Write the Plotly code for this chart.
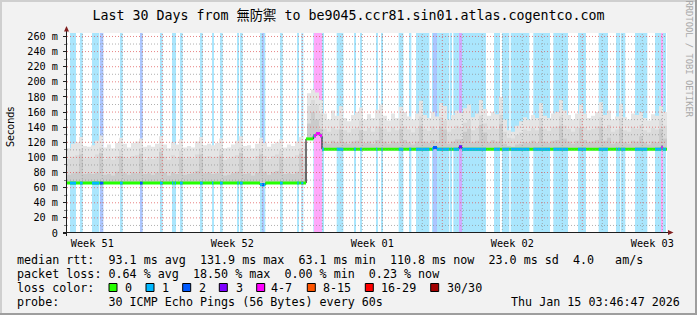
import pandas as pd
import plotly.graph_objects as go

# ---------------- data ----------------
START = pd.Timestamp("2025-12-16 05:38:00")
END = START + pd.Timedelta(days=30)
TOTAL_H = 720.0
BIN_HOURS = 4.8
Y_MAX = 264.6

# loss events (hours since start of graph) and their loss class
loss_start_h = [3.6, 15.6, 30.0, 39.6, 63.6, 87.6, 111.6, 126.0, 129.2, 135.6, 159.6, 174.0, 183.6,
                204.4, 207.6, 231.6, 234.0, 255.6, 276.4, 281.2, 295.6, 296.4, 323.6, 344.4, 351.6,
                370.8, 377.2, 398.0, 410.4, 418.8, 438.0, 439.2, 460.4, 463.6, 470.4, 512.4, 522.0,
                532.4, 559.6, 583.6, 613.2, 638.0, 658.8, 661.2, 664.4, 681.6, 705.6, 713.2]
loss_end_h = [10.8, 18.8, 38.8, 43.6, 66.8, 90.8, 114.8, 127.6, 130.8, 138.8, 162.8, 175.6, 186.8,
              206.0, 210.8, 238.0, 236.4, 258.8, 278.0, 283.6, 308.4, 306.0, 331.6, 346.8, 354.0,
              372.4, 378.8, 403.6, 413.2, 434.8, 458.8, 444.0, 462.0, 502.8, 474.0, 519.6, 530.8,
              554.8, 579.6, 601.2, 622.8, 649.2, 660.4, 663.6, 670.0, 696.4, 718.8, 714.8]
loss_level = [1, 1, 1, 2, 1, 2, 1, 1, 1, 1, 1, 1, 1,
              1, 1, 1, 2, 1, 1, 1, 1, 4, 1, 1, 1,
              1, 1, 1, 1, 1, 1, 2, 1, 1, 3, 1, 1,
              1, 1, 1, 1, 1, 1, 1, 1, 1, 1, 4]

# median rtt (ms), step values starting at the given hour
median_t_h = [0, 231.6, 238.0, 286.8, 295.6, 298.8, 303.6, 306.0, 439.2, 444.0, 470.4, 474.0, 713.2, 714.8]
median_v = [66, 64, 66, 124.5, 128.5, 131.5, 128.5, 110.8, 113, 110.8, 114, 110.8, 113.5, 110.8]

# smoke envelope (ms) per 4.8 h bin: outer, middle, inner
smoke_hi = [
    112, 118, 120, 127, 115, 114, 116, 122, 129, 113, 117, 112, 119, 126, 118, 113, 119, 121, 125, 114,
    116, 114, 118, 128, 117, 112, 120, 117, 124, 113, 115, 113, 121, 127, 116, 118, 116, 119, 125, 112,
    113, 117, 122, 128, 115, 116, 112, 118, 126, 119, 114, 118, 120, 124, 113, 117, 115, 121, 127, 120,
    185, 190, 186, 176,
    158, 150, 162, 155,
    168, 152, 148, 156, 160, 166, 150, 157, 152, 163, 170, 155, 149, 158, 152, 167, 160, 154, 150, 158,
    175, 156, 152, 160, 154, 172, 168, 150, 156, 162, 159, 165, 170, 153, 158, 176, 164, 155, 160, 157,
    180, 150, 136, 134, 142, 148, 153, 150, 156, 152, 172, 155, 152, 158, 160, 176, 162, 156, 150, 158,
    170, 158, 152, 155, 160, 173, 156, 162, 150, 154, 171, 153, 150, 158, 156, 160, 152, 149, 157, 155,
    168, 160]
smoke_mid = [
    98, 101, 103, 111, 99, 100, 99, 104, 113, 98, 101, 97, 102, 110, 100, 99, 102, 103, 112, 97,
    100, 98, 101, 113, 101, 97, 103, 100, 109, 99, 101, 99, 104, 112, 100, 102, 100, 101, 110, 97,
    99, 101, 103, 113, 100, 100, 97, 102, 111, 102, 98, 102, 104, 109, 99, 101, 100, 103, 112, 101,
    168, 176, 170, 158,
    138, 134, 140, 137,
    150, 136, 133, 138, 140, 149, 135, 139, 134, 141, 152, 138, 134, 140, 136, 150, 141, 137, 133, 139,
    154, 138, 135, 141, 137, 153, 149, 134, 138, 142, 140, 146, 150, 136, 139, 155, 145, 137, 141, 138,
    156, 134, 126, 125, 130, 133, 137, 135, 139, 136, 152, 138, 135, 140, 141, 154, 142, 138, 134, 140,
    151, 140, 136, 138, 141, 153, 139, 143, 134, 137, 151, 136, 134, 140, 138, 143, 136, 133, 139, 137,
    150, 142]
smoke_lo = [
    77, 79, 81, 104, 78, 79, 78, 80, 106, 77, 78, 76, 81, 102, 79, 77, 80, 79, 105, 78,
    79, 77, 80, 107, 80, 76, 80, 78, 101, 77, 78, 79, 82, 104, 79, 80, 78, 79, 103, 76,
    77, 79, 81, 106, 78, 79, 76, 80, 104, 81, 77, 80, 82, 101, 78, 79, 78, 81, 105, 80,
    145, 160, 150, 138,
    121, 118, 122, 120,
    137, 120, 118, 121, 122, 136, 119, 121, 118, 123, 140, 121, 118, 122, 120, 138, 123, 120, 117, 121,
    142, 121, 119, 123, 120, 141, 137, 118, 121, 124, 124, 134, 138, 120, 122, 143, 133, 120, 123, 121,
    144, 118, 115, 114, 117, 118, 120, 119, 122, 119, 140, 121, 119, 122, 123, 142, 125, 121, 118, 122,
    139, 123, 120, 121, 123, 141, 122, 126, 118, 120, 139, 120, 118, 122, 121, 128, 120, 117, 121, 120,
    138, 125]

week_label_dates = ["2025-12-17 12:00", "2025-12-24 12:00", "2025-12-31 12:00",
                    "2026-01-07 12:00", "2026-01-14 12:00"]
week_labels = ["Week 51", "Week 52", "Week 01", "Week 02", "Week 03"]
y_tick_vals = list(range(0, 261, 20))
y_tick_text = ["0"] + [f"{v} m" for v in y_tick_vals[1:]]

loss_legend_labels = ["0", "1", "2", "3", "4-7", "8-15", "16-29", "30/30"]
loss_legend_colors = ["#26ff00", "#00b8ff", "#0059ff", "#7e00ff", "#ff00ff", "#ff5500", "#ff0000", "#a10000"]
band_colors = {1: "rgb(170,230,253)", 2: "rgb(172,198,255)", 3: "rgb(212,170,255)", 4: "rgb(255,168,250)"}
smoke_colors = ["#e5e5e5", "#dadada", "#cbcbcb"]

title_text = "Last 30 Days from 無防禦 to be9045.ccr81.sin01.atlas.cogentco.com"
row_rtt = "median rtt:  93.1 ms avg  131.9 ms max  63.1 ms min  110.8 ms now  23.0 ms sd  4.0   am/s"
row_loss = "packet loss: 0.64 % avg  18.50 % max  0.00 % min  0.23 % now"
row_probe = "probe:       30 ICMP Echo Pings (56 Bytes) every 60s"
stamp = "Thu Jan 15 03:46:47 2026"

# ---------------- helpers ----------------
MONO = "DejaVu Sans Mono, Noto Sans CJK TC, monospace"
L, R, T0, B = 67, 667, 33, 233  # plot area in pixels


def PX(x):
    return (x - L) / (R - L)


def PY(y):
    return (B - y) / (B - T0)


def T(h):
    return START + pd.Timedelta(hours=h)


def med_at(h):
    v = median_v[0]
    for t, val in zip(median_t_h, median_v):
        if t <= h:
            v = val
    return v


nb = lambda s: s.replace(" ", "\u00a0")

fig = go.Figure()

# loss background bands
for lvl in [1, 2, 3, 4]:
    idx = [i for i, l in enumerate(loss_level) if l == lvl]
    fig.add_trace(go.Bar(
        x=[T((loss_start_h[i] + loss_end_h[i]) / 2) for i in idx],
        y=[Y_MAX] * len(idx), base=0,
        width=[(loss_end_h[i] - loss_start_h[i]) * 3600 * 1000 for i in idx],
        marker=dict(color=band_colors[lvl], line=dict(width=0)),
        hoverinfo="skip", showlegend=False))

# smoke
n = len(smoke_hi)
edges = [T(i * BIN_HOURS) for i in range(n + 1)]
base = [med_at((i + 0.5) * BIN_HOURS) for i in range(n)]
for vals, col in zip([smoke_hi, smoke_mid, smoke_lo], smoke_colors):
    fig.add_trace(go.Scatter(x=edges, y=base + [base[-1]], mode="lines",
                             line=dict(width=0, shape="hv"), hoverinfo="skip", showlegend=False))
    fig.add_trace(go.Scatter(x=edges, y=list(vals) + [vals[-1]], mode="lines",
                             line=dict(width=0, shape="hv"), fill="tonexty", fillcolor=col,
                             hoverinfo="skip", showlegend=False))

# black median line
fig.add_trace(go.Scatter(x=[T(t) for t in median_t_h] + [END], y=median_v + [median_v[-1]],
                         mode="lines", line=dict(color="#000000", width=1, shape="hv"),
                         hoverinfo="skip", showlegend=False))

# coloured median segments by loss class
steps = list(zip(median_t_h, median_t_h[1:] + [TOTAL_H], median_v))


def add_segments(intervals, color):
    xs, ys = [], []
    for a, b in intervals:
        for s0, s1, v in steps:
            lo, hi = max(a, s0), min(b, s1)
            if hi > lo:
                xs += [T(lo), T(hi), None]
                ys += [v, v, None]
    fig.add_trace(go.Scatter(x=xs, y=ys, mode="lines", line=dict(color=color, width=3),
                             hoverinfo="skip", showlegend=False))


add_segments([(0, TOTAL_H)], loss_legend_colors[0])
for lvl in [1, 2, 3, 4]:
    add_segments([(loss_start_h[i], loss_end_h[i]) for i, l in enumerate(loss_level) if l == lvl],
                 loss_legend_colors[lvl])

# ---------------- shapes ----------------
shapes = []
GRID = "rgba(143,143,143,0.7)"
MGRID = "rgba(222,79,79,0.7)"
DASH = "1px,2px"
for d in pd.date_range(START.ceil("D"), END, freq="D"):
    shapes.append(dict(type="line", xref="x", yref="paper", x0=d, x1=d, y0=0, y1=1, layer="above",
                       line=dict(color=MGRID if d.weekday() == 6 else GRID, width=1, dash=DASH)))
for v in range(10, int(Y_MAX) + 1, 10):
    shapes.append(dict(type="line", xref="paper", yref="y", x0=0, x1=1, y0=v, y1=v, layer="above",
                       line=dict(color=MGRID if v % 20 == 0 else GRID, width=1, dash=DASH)))

# axes with arrows
AX = "#1f1f1f"
ARROW = "#801f1f"
shapes.append(dict(type="line", xref="paper", yref="paper", x0=PX(63), x1=PX(669), y0=PY(232.5), y1=PY(232.5),
                   line=dict(color=AX, width=1), layer="above"))
shapes.append(dict(type="line", xref="paper", yref="paper", x0=PX(66.5), x1=PX(66.5), y0=PY(236), y1=PY(30),
                   line=dict(color=AX, width=1), layer="above"))
shapes.append(dict(type="path", xref="paper", yref="paper", layer="above",
                   path=f"M{PX(66.5)},{PY(26)} L{PX(64)},{PY(31.5)} L{PX(69)},{PY(31.5)} Z",
                   fillcolor=ARROW, line=dict(width=0)))
shapes.append(dict(type="path", xref="paper", yref="paper", layer="above",
                   path=f"M{PX(673.5)},{PY(232.5)} L{PX(668)},{PY(230)} L{PX(668)},{PY(235)} Z",
                   fillcolor=ARROW, line=dict(width=0)))

# bevel border
shapes.append(dict(type="line", xref="paper", yref="paper", x0=PX(0), x1=PX(697), y0=PY(1), y1=PY(1),
                   line=dict(color="#cfcfcf", width=2)))
shapes.append(dict(type="line", xref="paper", yref="paper", x0=PX(1), x1=PX(1), y0=PY(0), y1=PY(315),
                   line=dict(color="#cfcfcf", width=2)))
shapes.append(dict(type="line", xref="paper", yref="paper", x0=PX(696), x1=PX(696), y0=PY(0), y1=PY(315),
                   line=dict(color="#9e9e9e", width=2)))
shapes.append(dict(type="line", xref="paper", yref="paper", x0=PX(0), x1=PX(697), y0=PY(314), y1=PY(314),
                   line=dict(color="#9e9e9e", width=2)))

# loss colour legend boxes
box_x = [109, 146, 182.7, 219.3, 256.7, 307.3, 365.3, 430.7]
lab_x = [123.5, 160.5, 198, 234.8, 270, 321.5, 380, 445.5]
for bx, col in zip(box_x, loss_legend_colors):
    shapes.append(dict(type="rect", xref="paper", yref="paper", x0=PX(bx), x1=PX(bx + 8),
                       y0=PY(291.5), y1=PY(283.5), fillcolor=col, line=dict(color="#000000", width=1)))

# ---------------- annotations ----------------
LEG_FS = 11.7
row_base = [264, 278, 292, 306]
row_y = [PY(b - 4) for b in row_base]
ann = []


def text(x, y, s, xanchor="left", size=LEG_FS, color="#000000", angle=0, family=MONO):
    ann.append(dict(x=x, y=y, xref="paper", yref="paper", text=nb(s), showarrow=False, xanchor=xanchor,
                    yanchor="middle", borderpad=0, textangle=angle,
                    font=dict(family=family, size=size, color=color)))


text(PX(16), row_y[0], row_rtt)
text(PX(16), row_y[1], row_loss)
text(PX(16), row_y[2], "loss color:")
for lx, lab in zip(lab_x, loss_legend_labels):
    text(PX(lx), row_y[2], lab)
text(PX(16), row_y[3], row_probe)
text(PX(681), row_y[3], stamp, xanchor="right")
text(PX(10.5), PY(127.5), "Seconds", xanchor="center", size=9.6, angle=-90,
     family="DejaVu Sans, sans-serif")
text(PX(688), PY(58.5), "RRDTOOL / TOBI OETIKER", xanchor="center", size=8.8, color="#a8a8a8", angle=90)

fig.update_layout(
    width=697, height=315, autosize=False,
    margin=dict(l=L, r=697 - R, t=T0, b=315 - B, pad=0),
    paper_bgcolor="#f2f2f2", plot_bgcolor="#ffffff",
    barmode="overlay", hovermode=False, showlegend=False,
    font=dict(family=MONO, size=10.2, color="#000000"),
    title=dict(text=title_text, x=0.5, xref="container", xanchor="center",
               y=1 - 15 / 315, yref="container", yanchor="middle",
               font=dict(family=MONO, size=13.3, color="#000000")),
    shapes=shapes, annotations=ann,
    xaxis=dict(type="date", range=[START, END], showgrid=False, zeroline=False, showline=False,
               tickmode="array", tickvals=week_label_dates, ticktext=week_labels, ticks="",
               ticklabelstandoff=3,
               tickfont=dict(family=MONO, size=10.2, color="#000000"), fixedrange=True),
    yaxis=dict(range=[0, Y_MAX], showgrid=False, zeroline=False, showline=False,
               tickmode="array", tickvals=y_tick_vals, ticktext=y_tick_text,
               ticks="outside", ticklen=3, tickcolor=AX, ticklabelstandoff=3,
               minor=dict(tickmode="linear", tick0=0, dtick=10, ticks="outside", ticklen=2,
                          tickcolor="#777777", showgrid=False),
               tickfont=dict(family=MONO, size=10.2, color="#000000"), fixedrange=True),
)

fig.write_html("out.html")
